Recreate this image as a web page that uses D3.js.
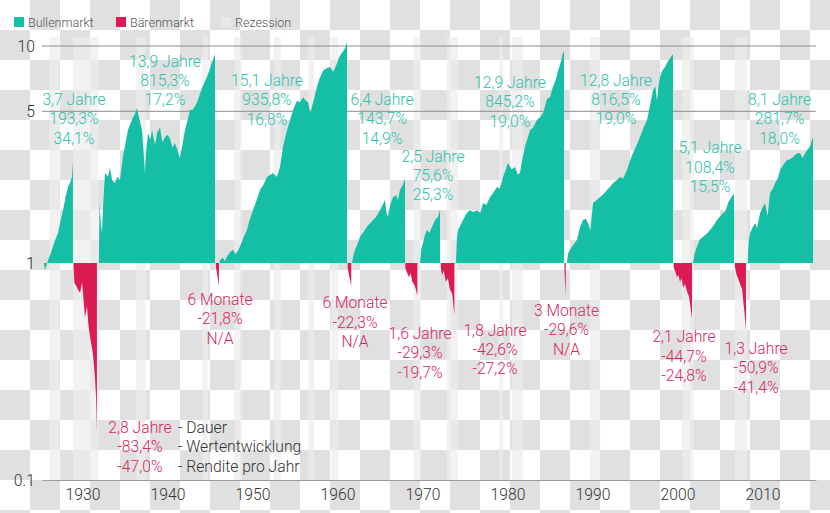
<!DOCTYPE html>
<html>
<head>
<meta charset="utf-8">
<script src="https://cdn.jsdelivr.net/npm/d3@7"></script>
<style>
body { margin: 0; background: #fff; }
svg { display: block; font-family: Roboto, "Noto Sans", sans-serif; font-weight: 300; }
</style>
</head>
<body>
<svg id="chart" width="830" height="513"></svg>
<script>
// Tick values
var yearTicks = [1930, 1940, 1950, 1960, 1970, 1980, 1990, 2000, 2010];
var valueTicks = [0.1, 1, 5, 10];
var gridValues = [5, 10];

// Recession periods (start year, end year)
var recessions = [
    [1927.1, 1928.3], [1929.9, 1932.9], [1937.33, 1938.42], [1945.08, 1945.75],
    [1948.83, 1949.75], [1953.5, 1954.33], [1957.58, 1958.25], [1960.25, 1961.08],
    [1969.92, 1970.83], [1973.83, 1975.17], [1980.0, 1980.5], [1981.5, 1982.83],
    [1990.7, 1991.9], [2001.5, 2002.9], [2007.75, 2009.2]
];

// Bull markets: [year, growth factor]
var bull1926 = [[1926.47,1.0],[1926.59,0.93],[1926.75,0.97],[1926.94,1.03],[1927.25,1.1],[1927.53,1.19],[1927.8,1.28],[1928.12,1.37],[1928.4,1.55],[1928.71,1.75],[1929.0,2.0],[1929.29,2.24],[1929.55,2.35],[1929.76,2.49],[1929.88,2.933]];
var bull1932 = [[1932.94,1.0],[1933.0,1.89],[1933.15,1.55],[1933.29,1.37],[1933.45,1.9],[1933.65,2.6],[1934.0,2.5],[1934.24,2.74],[1934.5,2.4],[1934.82,2.33],[1935.1,2.5],[1935.41,2.41],[1935.76,3.08],[1936.35,4.1],[1936.94,4.7],[1937.2,4.9],[1937.41,5.17],[1937.7,4.6],[1938.0,4.1],[1938.2,3.2],[1938.35,2.6],[1938.5,3.3],[1938.71,3.97],[1939.0,3.7],[1939.18,4.1],[1939.53,3.5],[1939.8,4.0],[1940.12,4.2],[1940.4,3.6],[1940.71,3.8],[1941.0,3.9],[1941.29,3.76],[1941.6,3.4],[1941.88,3.57],[1942.2,3.3],[1942.47,3.05],[1942.75,3.5],[1943.06,4.1],[1943.4,4.6],[1943.65,5.07],[1944.0,5.1],[1944.47,5.47],[1945.06,6.4],[1945.65,7.2],[1946.0,7.9],[1946.24,8.4],[1946.59,9.153]];
var bull1947 = [[1947.15,1.0],[1947.18,1.03],[1947.5,1.06],[1947.75,1.02],[1948.0,1.07],[1948.35,1.12],[1948.71,1.15],[1949.0,1.1],[1949.3,1.14],[1949.53,1.19],[1949.9,1.3],[1950.35,1.42],[1950.6,1.55],[1951.06,1.75],[1951.5,1.95],[1951.88,2.17],[1952.3,2.3],[1952.71,2.49],[1953.1,2.55],[1953.41,2.6],[1953.88,2.49],[1954.24,2.77],[1954.59,3.43],[1955.0,4.0],[1955.41,4.56],[1955.8,5.1],[1956.24,5.6],[1956.6,5.5],[1956.94,5.8],[1957.3,5.6],[1957.53,5.5],[1957.8,4.9],[1958.0,5.25],[1958.3,5.8],[1958.59,6.5],[1958.9,7.1],[1959.29,7.7],[1959.7,7.9],[1960.12,8.0],[1960.5,7.6],[1960.94,8.3],[1961.2,8.9],[1961.53,9.3],[1961.8,9.6],[1962.12,10.358]];
var bull1962 = [[1962.71,1.0],[1962.85,1.08],[1963.06,1.15],[1963.35,1.22],[1963.65,1.32],[1964.0,1.38],[1964.47,1.47],[1964.8,1.52],[1965.18,1.58],[1965.5,1.62],[1966.0,1.75],[1966.3,1.85],[1966.59,1.95],[1966.75,1.7],[1966.94,1.63],[1967.2,1.85],[1967.53,2.01],[1967.9,2.05],[1968.1,1.95],[1968.35,2.17],[1968.7,2.3],[1968.94,2.437]];
var bull1970 = [[1970.71,1.0],[1970.85,1.15],[1971.06,1.24],[1971.3,1.35],[1971.53,1.42],[1971.8,1.38],[1972.12,1.47],[1972.47,1.58],[1972.82,1.63],[1973.06,1.756]];
var bull1974 = [[1974.94,1.0],[1975.05,1.3],[1975.18,1.42],[1975.5,1.5],[1975.76,1.58],[1976.2,1.7],[1976.59,1.75],[1977.0,1.72],[1977.41,1.75],[1977.8,1.7],[1978.12,1.89],[1978.5,1.85],[1978.94,2.01],[1979.3,2.1],[1979.76,2.24],[1980.1,2.2],[1980.47,2.49],[1980.8,2.7],[1981.06,2.89],[1981.5,2.7],[1981.88,2.77],[1982.2,2.55],[1982.47,2.6],[1982.8,3.1],[1983.06,3.43],[1983.4,3.8],[1983.65,4.1],[1984.0,4.2],[1984.47,4.56],[1984.82,4.7],[1985.18,4.9],[1985.65,5.7],[1986.0,5.8],[1986.35,6.5],[1986.7,7.0],[1986.94,7.7],[1987.3,8.5],[1987.53,9.3],[1987.65,9.452]];
var bull1987 = [[1988.0,1.0],[1988.1,1.1],[1988.35,1.15],[1988.8,1.22],[1989.18,1.28],[1989.5,1.45],[1989.88,1.58],[1990.2,1.6],[1990.47,1.53],[1990.75,1.42],[1991.06,1.89],[1991.5,1.95],[1991.88,2.01],[1992.3,2.08],[1992.71,2.17],[1993.1,2.25],[1993.41,2.33],[1993.8,2.4],[1994.24,2.49],[1994.6,2.45],[1995.06,2.68],[1995.4,2.95],[1995.76,3.21],[1996.2,3.5],[1996.59,3.81],[1997.0,4.2],[1997.41,4.56],[1997.8,5.4],[1998.12,6.27],[1998.4,6.5],[1998.59,5.6],[1998.75,6.5],[1998.94,7.2],[1999.2,7.7],[1999.53,8.0],[1999.8,8.4],[2000.12,8.8],[2000.47,9.165]];
var bull2002 = [[2002.82,1.0],[2003.0,1.1],[2003.29,1.19],[2003.6,1.28],[2004.0,1.32],[2004.4,1.36],[2004.82,1.42],[2005.2,1.48],[2005.65,1.58],[2006.0,1.64],[2006.35,1.7],[2006.6,1.72],[2006.94,1.89],[2007.3,2.0],[2007.65,2.084]];
var bull2009 = [[2009.25,1.0],[2009.35,1.25],[2009.53,1.37],[2009.8,1.45],[2010.12,1.53],[2010.35,1.45],[2010.71,1.7],[2011.0,1.8],[2011.29,1.89],[2011.6,1.65],[2011.88,2.1],[2012.2,2.2],[2012.47,2.33],[2012.8,2.45],[2013.06,2.68],[2013.5,2.85],[2013.88,2.98],[2014.2,3.0],[2014.59,3.08],[2015.0,3.2],[2015.41,3.21],[2015.7,3.05],[2016.0,3.2],[2016.24,3.31],[2016.6,3.45],[2016.94,3.817]];

// Bear markets: [year, drawdown factor]
var bear1929 = [[1929.95,0.95],[1930.05,0.81],[1930.3,0.78],[1930.5,0.75],[1930.71,0.73],[1930.95,0.81],[1931.1,0.7],[1931.29,0.56],[1931.53,0.63],[1931.7,0.52],[1931.88,0.46],[1932.05,0.42],[1932.24,0.38],[1932.47,0.30],[1932.6,0.24],[1932.7,0.166]];
var bear1946 = [[1946.7,0.96],[1946.85,0.88],[1946.95,0.83],[1947.05,0.782]];
var bear1962 = [[1962.2,0.95],[1962.35,0.88],[1962.5,0.83],[1962.62,0.777]];
var bear1968 = [[1968.97,0.95],[1969.2,0.9],[1969.4,0.86],[1969.6,0.9],[1969.8,0.82],[1970.0,0.8],[1970.2,0.76],[1970.4,0.707]];
var bear1973 = [[1973.15,0.95],[1973.3,0.88],[1973.5,0.92],[1973.75,0.82],[1974.0,0.85],[1974.2,0.76],[1974.5,0.72],[1974.75,0.574]];
var bear1987 = [[1987.7,0.92],[1987.78,0.8],[1987.85,0.704]];
var bear2000 = [[2000.55,0.95],[2000.8,0.9],[2000.94,0.86],[2001.1,0.88],[2001.29,0.82],[2001.5,0.85],[2001.65,0.77],[2001.88,0.8],[2002.12,0.74],[2002.35,0.7],[2002.55,0.62],[2002.7,0.553]];
var bear2007 = [[2007.75,0.96],[2007.95,0.88],[2008.12,0.85],[2008.35,0.8],[2008.59,0.76],[2008.75,0.66],[2008.9,0.58],[2009.05,0.491]];

var bullMarkets = [bull1926, bull1932, bull1947, bull1962, bull1970, bull1974, bull1987, bull2002, bull2009];
var bearMarkets = [bear1929, bear1946, bear1962, bear1968, bear1973, bear1987, bear2000, bear2007];

// Annotations: Dauer, Wertentwicklung, Rendite pro Jahr
var bullLabels = [
    ["3,7 Jahre", "193,3%", "34,1%"],
    ["13,9 Jahre", "815,3%", "17,2%"],
    ["15,1 Jahre", "935,8%", "16,8%"],
    ["6,4 Jahre", "143,7%", "14,9%"],
    ["2,5 Jahre", "75,6%", "25,3%"],
    ["12,9 Jahre", "845,2%", "19,0%"],
    ["12,8 Jahre", "816,5%", "19,0%"],
    ["5,1 Jahre", "108,4%", "15,5%"],
    ["8,1 Jahre", "281,7%", "18,0%"]
];
var bearLabels = [
    ["2,8 Jahre", "-83,4%", "-47,0%"],
    ["6 Monate", "-21,8%", "N/A"],
    ["6 Monate", "-22,3%", "N/A"],
    ["1,6 Jahre", "-29,3%", "-19,7%"],
    ["1,8 Jahre", "-42,6%", "-27,2%"],
    ["3 Monate", "-29,6%", "N/A"],
    ["2,1 Jahre", "-44,7%", "-24,8%"],
    ["1,3 Jahre", "-50,9%", "-41,4%"]
];
var legendNotes = ["- Dauer", "- Wertentwicklung", "- Rendite pro Jahr"];
var legendItems = ["Bullenmarkt", "Bärenmarkt", "Rezession"];

// Label anchors in data units (year, value of first line)
var bullLabelAt = [[1930.0,5.64],[1940.71,8.48],[1952.71,6.90],[1966.24,5.64],[1972.24,3.09],[1981.29,6.77],[1993.76,6.92],[2004.82,3.38],[2013.0,5.64]];
var bearLabelAt = [[1937.76,0.1736],[1947.18,0.675],[1963.06,0.652],[1970.71,0.471],[1979.53,0.488],[1987.94,0.601],[2001.76,0.4545],[2010.24,0.4015]];

var conf = {
    left: 42,
    right: 816,
    top: 37,
    bottom: 480,
    lineHeight: 19.4,
    fontSize: 15.7,
    bullColor: '#14bfa6',
    bearColor: '#dc1b55',
    bullText: '#2fc2ad',
    bearText: '#d8285e',
    bandColor: '#ececec',
    bandOpacity: 0.7,
    checker: '#e0e0e0'
};

var svg = d3.select('#chart');

var x = d3.scaleLinear().domain([1926.24, 2017.29]).range([conf.left, conf.right]);
var y = d3.scaleLog().domain([0.1, 10]).range([conf.bottom, 46]);

// Transparent-preview checkerboard
var pat = svg.append('defs').append('pattern')
    .attr('id', 'checker')
    .attr('patternUnits', 'userSpaceOnUse')
    .attr('width', 60).attr('height', 60);
pat.append('rect').attr('width', 60).attr('height', 60).attr('fill', '#fff');
pat.append('rect').attr('x', 30).attr('y', 0).attr('width', 30).attr('height', 30).attr('fill', conf.checker);
pat.append('rect').attr('x', 0).attr('y', 30).attr('width', 30).attr('height', 30).attr('fill', conf.checker);
svg.append('rect').attr('width', 830).attr('height', 513).attr('fill', 'url(#checker)');

// Recession bands
svg.append('g').selectAll('rect')
    .data(recessions)
    .enter().append('rect')
    .attr('x', function(d){ return x(d[0]); })
    .attr('y', conf.top)
    .attr('width', function(d){ return x(d[1]) - x(d[0]); })
    .attr('height', conf.bottom - conf.top)
    .attr('fill', conf.bandColor)
    .attr('fill-opacity', conf.bandOpacity);

// Grid lines at 5 and 10
svg.append('g').selectAll('line')
    .data(gridValues)
    .enter().append('line')
    .attr('x1', conf.left).attr('x2', conf.right)
    .attr('y1', function(d){ return y(d); })
    .attr('y2', function(d){ return y(d); })
    .attr('stroke', '#8c8c8c')
    .attr('stroke-width', 1);

var area = d3.area()
    .x(function(d){ return x(d[0]); })
    .y0(y(1))
    .y1(function(d){ return y(d[1]); });

svg.append('g').selectAll('path')
    .data(bullMarkets)
    .enter().append('path')
    .attr('d', area)
    .attr('fill', conf.bullColor);

svg.append('g').selectAll('path')
    .data(bearMarkets)
    .enter().append('path')
    .attr('d', area)
    .attr('fill', conf.bearColor);

// Axes
var xAxis = svg.append('g')
    .attr('transform', 'translate(0,' + conf.bottom + ')')
    .call(d3.axisBottom(x).tickValues(yearTicks).tickFormat(d3.format('d')).tickSize(0).tickSizeOuter(0).tickPadding(9));
xAxis.select('.domain').attr('stroke', '#9a9a9a');
xAxis.selectAll('text')
    .attr('dx', 8.5)
    .attr('fill', '#333')
    .style('font-size', conf.fontSize + 'px')
    .style('font-family', 'Roboto, sans-serif')
    .style('font-weight', 300);

var yAxis = svg.append('g')
    .attr('transform', 'translate(' + conf.left + ',0)')
    .call(d3.axisLeft(y).tickValues(valueTicks).tickFormat(function(d){ return String(d); }).tickSize(0).tickPadding(7));
yAxis.select('.domain').remove();
yAxis.selectAll('text')
    .attr('fill', '#333')
    .style('font-size', conf.fontSize + 'px')
    .style('font-family', 'Roboto, sans-serif')
    .style('font-weight', 300);

// Multi-line labels
var drawLabel = function(g, lines, px, py, color, anchor){
    var t = g.append('text')
        .attr('x', px)
        .attr('y', py + 5)
        .attr('text-anchor', anchor || 'middle')
        .attr('fill', color)
        .style('font-size', conf.fontSize + 'px');
    lines.forEach(function(line, i){
        t.append('tspan')
            .attr('x', px)
            .attr('dy', i === 0 ? 0 : conf.lineHeight)
            .text(line);
    });
};

var labels = svg.append('g');
bullLabels.forEach(function(lines, i){
    drawLabel(labels, lines, x(bullLabelAt[i][0]), y(bullLabelAt[i][1]), conf.bullText);
});
bearLabels.forEach(function(lines, i){
    drawLabel(labels, lines, x(bearLabelAt[i][0]), y(bearLabelAt[i][1]), conf.bearText);
});
// Explanation next to the first bear label
drawLabel(labels, legendNotes, x(bearLabelAt[0][0]) + 38, y(bearLabelAt[0][1]), '#333', 'start');

// Legend
var legendColors = [conf.bullColor, conf.bearColor, conf.bandColor];
var legendX = [14, 116, 221];
var legend = svg.append('g');
legendItems.forEach(function(name, i){
    legend.append('rect')
        .attr('x', legendX[i]).attr('y', 17)
        .attr('width', 10).attr('height', 10)
        .attr('fill', legendColors[i])
        .attr('fill-opacity', i === 2 ? conf.bandOpacity : 1);
    legend.append('text')
        .attr('x', legendX[i] + 14)
        .attr('y', 27)
        .attr('fill', '#555')
        .style('font-size', '12.5px')
        .text(name);
});
</script>
</body>
</html>
